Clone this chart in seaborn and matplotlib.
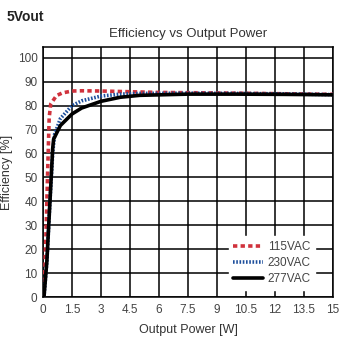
import matplotlib
matplotlib.use("Agg")
import matplotlib.pyplot as plt
import seaborn as sns
import pandas as pd

# Efficiency curves for the 5 V output at three input voltages
power_115 = [0.05, 0.15, 0.25, 0.32, 0.4, 0.7, 1.0, 1.5, 2.0, 3.0, 4.5, 6.0, 9.0, 12.0, 15.0]
eff_115 = [0, 25, 55, 75, 80.7, 84.2, 85.3, 86.1, 86.2, 86.1, 85.8, 85.5, 85.3, 85.0, 84.7]

power_230 = [0.05, 0.2, 0.36, 0.5, 0.6, 0.9, 1.5, 2.0, 3.0, 4.0, 5.0, 7.5, 10.0, 12.5, 15.0]
eff_230 = [0, 15, 40, 60, 68, 74.6, 80.0, 82.0, 84.0, 84.8, 85.1, 85.2, 85.1, 84.9, 84.6]

power_277 = [0.05, 0.2, 0.36, 0.5, 0.55, 0.9, 1.5, 2.0, 3.0, 4.0, 5.0, 7.5, 10.0, 12.5, 15.0]
eff_277 = [0, 15, 40, 62, 66, 71.7, 76.5, 79.0, 81.8, 83.5, 84.3, 84.8, 84.8, 84.7, 84.5]

series_names = ["115VAC", "230VAC", "277VAC"]
x_ticks = [0, 1.5, 3, 4.5, 6, 7.5, 9, 10.5, 12, 13.5, 15]
x_tick_labels = ["0", "1.5", "3", "4.5", "6", "7.5", "9", "10.5", "12", "13.5", "15"]
y_ticks = list(range(0, 101, 10))

sns.set_style("white")
plt.rcParams["font.family"] = ["Liberation Sans Narrow", "Liberation Sans", "DejaVu Sans"]

fig = plt.figure(figsize=(3.44, 3.38), dpi=100)
ax = fig.add_axes([0.125, 0.121, 0.843, 0.740])

styles = [
    dict(color="#d0323c", linestyle=(0, (1.2, 0.9)), lw=2.6),
    dict(color="#1d4f9c", linestyle=(0, (0.45, 0.45)), lw=2.6),
    dict(color="black", linestyle="-", lw=2.6),
]
for name, xs, ys, st in zip(series_names,
                            [power_115, power_230, power_277],
                            [eff_115, eff_230, eff_277],
                            styles):
    df = pd.DataFrame({"power": xs, "eff": ys})
    sns.lineplot(data=df, x="power", y="eff", ax=ax, label=name,
                 color=st["color"], linestyle=st["linestyle"],
                 linewidth=st["lw"], zorder=3)

ax.set_xlim(0, 15)
ax.set_ylim(0, 104.5)
ax.set_xticks(x_ticks)
ax.set_xticklabels(x_tick_labels)
ax.set_yticks(y_ticks)
ax.grid(True, color="black", linewidth=1.1, zorder=0)
ax.set_axisbelow(True)
for sp in ax.spines.values():
    sp.set_color("black")
    sp.set_linewidth(1.1)
ax.tick_params(axis="both", length=0, labelsize=8.5, labelcolor="#444444")
ax.tick_params(axis="x", pad=5)
ax.tick_params(axis="y", pad=4)

ax.set_xlabel("Output Power [W]", fontsize=9, color="#333333", labelpad=6)
ax.set_ylabel("Efficiency [%]", fontsize=9, color="#333333", labelpad=3)
ax.set_title("Efficiency vs Output Power", fontsize=9.5, color="#333333", pad=7)
fig.text(0.02, 0.97, "5Vout", fontsize=10, fontweight="bold", color="#222222",
         va="top", ha="left")

leg = ax.legend(loc="lower right", bbox_to_anchor=(0.96, 0.005), frameon=True,
                fancybox=False, framealpha=1, edgecolor="white", facecolor="white",
                fontsize=8.5, handlelength=2.5, handletextpad=0.4,
                labelspacing=0.35, borderpad=0.4)
for t in leg.get_texts():
    t.set_color("#444444")

fig.savefig("out.png", dpi=100)
